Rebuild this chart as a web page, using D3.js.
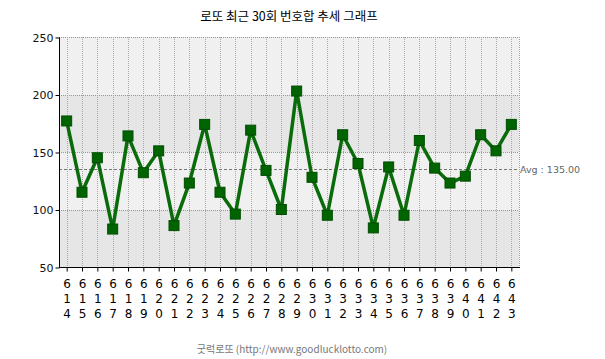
<!DOCTYPE html>
<html><head><meta charset="utf-8">
<script src="https://cdn.jsdelivr.net/npm/d3@7"></script>
<style>body{margin:0;background:#fff}svg{display:block}</style>
</head><body>
<script>
const rounds = [614,615,616,617,618,619,620,621,622,623,624,625,626,627,628,629,630,631,632,633,634,635,636,637,638,639,640,641,642,643];
const sums = [177,115,145,83,164,132,151,86,123,174,115,96,169,134,100,203,128,95,165,140,84,137,95,160,136,123,129,165,151,174];
const yTicks = [50,100,150,200,250];
const avgValue = 135.00;
const title = "로또 최근 30회 번호합 추세 그래프";
const footer = "굿럭로또 (http://www.goodlucklotto.com)";

(function(){
const W = 605, H = 359;
const pL = 59, pR = 519, pT = 37, pB = 267;
const svg = d3.select("body").append("svg").attr("width", W).attr("height", H);

const x = d3.scaleBand().domain(rounds).range([pL, pR]);
const y = d3.scaleLinear().domain([50, 250]).range([pB, pT]);
const cx = d => x(d) + x.bandwidth() / 2;

// background bands
const bands = d3.pairs(yTicks);
svg.selectAll("rect.band").data(bands).enter().append("rect")
  .attr("x", pL).attr("width", pR - pL)
  .attr("y", d => y(d[1])).attr("height", d => y(d[0]) - y(d[1]))
  .attr("fill", (d, i) => i % 2 === 0 ? "#e6e6e6" : "#f0f0f0");

// grid
svg.selectAll("line.hg").data(yTicks.slice(1)).enter().append("line")
  .attr("x1", pL).attr("x2", pR).attr("y1", d => Math.round(y(d)) + 0.5).attr("y2", d => Math.round(y(d)) + 0.5)
  .attr("stroke", "#999").attr("stroke-dasharray", "1,1");
svg.selectAll("line.vg").data(rounds).enter().append("line")
  .attr("x1", d => Math.round(cx(d)) + 0.5).attr("x2", d => Math.round(cx(d)) + 0.5)
  .attr("y1", pT).attr("y2", pB)
  .attr("stroke", "#aaa").attr("stroke-dasharray", "1,1");
svg.append("line").attr("x1", pR + 0.5).attr("x2", pR + 0.5).attr("y1", pT).attr("y2", pB)
  .attr("stroke", "#999").attr("stroke-dasharray", "1,1");

// average line
svg.append("line").attr("x1", pL).attr("x2", pR)
  .attr("y1", Math.round(y(avgValue)) + 0.5).attr("y2", Math.round(y(avgValue)) + 0.5)
  .attr("stroke", "#777").attr("stroke-dasharray", "3,2");
svg.append("text").attr("x", pR + 1).attr("y", y(avgValue) + 4)
  .attr("font-family", "DejaVu Sans, sans-serif").attr("font-size", 9.5).attr("fill", "#666")
  .text("Avg : " + avgValue.toFixed(2));

// axes
const yAxis = d3.axisLeft(y).tickValues(yTicks).tickSize(4).tickPadding(2);
const gy = svg.append("g").attr("transform", `translate(${pL + 0.5},0.5)`).call(yAxis);
gy.select(".domain").attr("d", `M0,${pT}V${pB}`);
gy.selectAll("text").attr("font-family", "DejaVu Sans, sans-serif").attr("font-size", 11).attr("fill", "#111");

const xAxis = d3.axisBottom(x).tickSize(4).tickFormat("");
const gx = svg.append("g").attr("transform", `translate(0,${pB + 0.5})`).call(xAxis);
gx.select(".domain").attr("d", `M${pL},0H${pR + 1}`);
gx.selectAll(".tick line").attr("transform", "translate(0.5,0)");

// stacked digit labels
const lbl = svg.append("g");
rounds.forEach(r => {
  const t = lbl.append("text").attr("x", cx(r) + 0.5).attr("text-anchor", "middle")
    .attr("font-family", "DejaVu Sans, sans-serif").attr("font-size", 12).attr("fill", "#000");
  String(r).split("").forEach((ch, i) => {
    t.append("tspan").attr("x", cx(r) + 0.5).attr("y", 288 + i * 15).text(ch);
  });
});

// line
const line = d3.line().x((d, i) => cx(rounds[i])).y(d => y(d));
svg.append("path").datum(sums).attr("d", line).attr("fill", "none")
  .attr("stroke", "#0a6b0a").attr("stroke-width", 3.5).attr("stroke-linejoin", "round");
svg.selectAll("rect.pt").data(sums).enter().append("rect")
  .attr("x", (d, i) => cx(rounds[i]) - 5).attr("y", d => y(d) - 5)
  .attr("width", 10).attr("height", 10)
  .attr("fill", "#006400").attr("stroke", "#004d00").attr("stroke-width", 1);

// title & footer
svg.append("text").attr("x", 289).attr("y", 21).attr("text-anchor", "middle")
  .attr("font-family", "Noto Sans CJK KR, sans-serif").attr("font-size", 12.5).attr("fill", "#000")
  .text(title);
svg.append("text").attr("x", 292).attr("y", 353).attr("text-anchor", "middle")
  .attr("font-family", "Noto Sans CJK KR, sans-serif").attr("font-size", 10).attr("fill", "#777")
  .text(footer);
})();
</script>
</body></html>
